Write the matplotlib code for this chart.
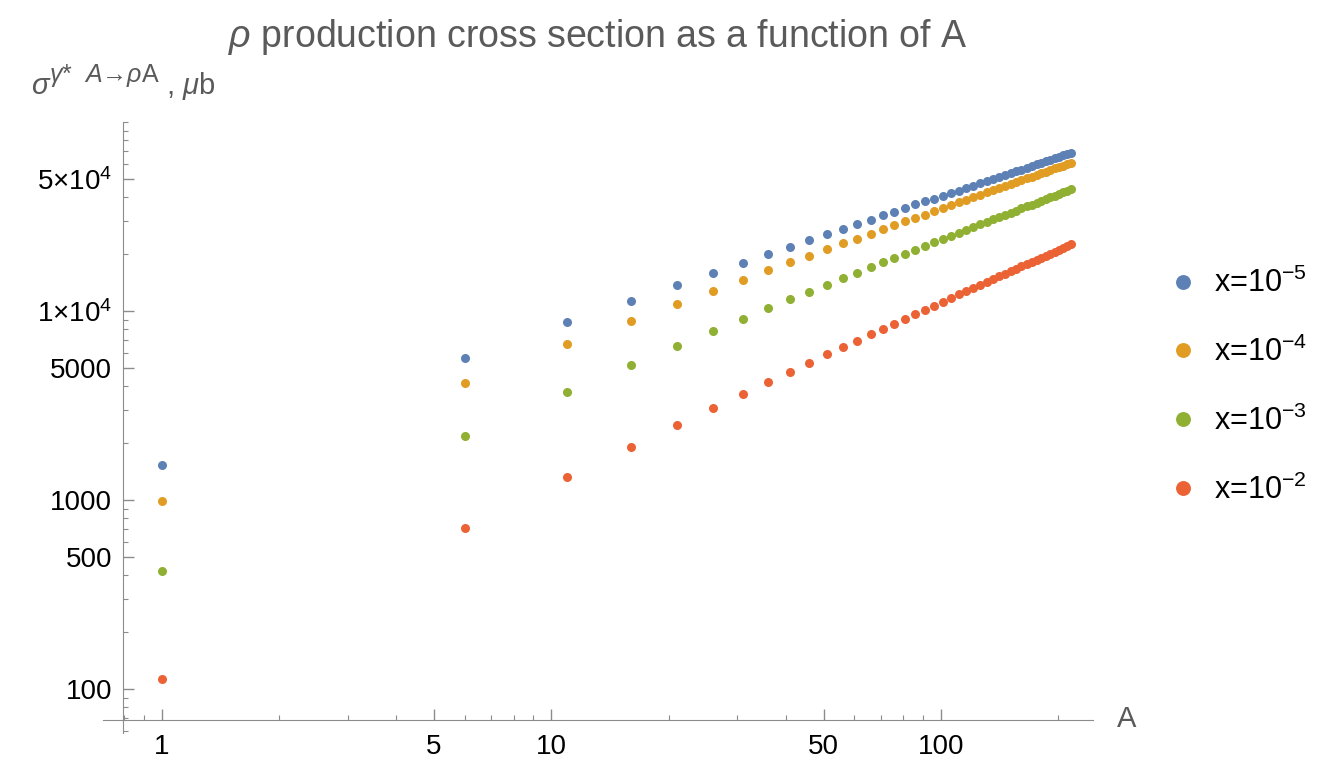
import matplotlib
matplotlib.use("Agg")
import matplotlib.pyplot as plt
from matplotlib.ticker import LogLocator, FixedLocator, FixedFormatter, NullFormatter

plt.rcParams['font.family'] = ['Liberation Sans', 'DejaVu Sans']
plt.rcParams['mathtext.fontset'] = 'custom'
plt.rcParams['mathtext.rm'] = 'Liberation Sans'
plt.rcParams['mathtext.it'] = 'Liberation Sans:italic'
plt.rcParams['mathtext.bf'] = 'Liberation Sans:bold'

# mass number A
A = [1, 6, 11, 16, 21, 26, 31, 36, 41, 46, 51, 56, 61, 66, 71, 76, 81, 86, 91, 96,
     101, 106, 111, 116, 121, 126, 131, 136, 141, 146, 151, 156, 161, 166, 171, 176,
     181, 186, 191, 196, 201, 206, 211, 216]

# cross section (mu b)
sigma_x1e5 = [1531, 5620, 8713, 11295, 13730, 15890, 18010, 20030, 21890, 23660,
              25560, 27160, 28860, 30420, 32090, 33530, 35070, 36690, 38050, 39290,
              40750, 42110, 43300, 44660, 45980, 47290, 48590, 49870, 51140, 52400,
              53630, 54860, 56070, 57290, 58490, 59670, 60850, 62010, 63150, 64300,
              65430, 66560, 67690, 68800]
sigma_x1e4 = [988, 4175, 6689, 8885, 10930, 12810, 14640, 16420, 18100, 19620,
              21210, 22820, 24130, 25650, 27050, 28410, 29830, 31050, 32330, 33810,
              34950, 36250, 37600, 38820, 40030, 41220, 42400, 43570, 44720, 45860,
              46990, 48110, 49220, 50320, 51420, 52500, 53580, 54650, 55710, 56770,
              57820, 58860, 59890, 60900]
sigma_x1e3 = [420, 2189, 3741, 5180, 6527, 7840, 9106, 10330, 11530, 12650,
              13780, 14890, 15950, 17030, 18100, 19070, 20100, 21100, 22080, 23100,
              24040, 25030, 25960, 26890, 27810, 28720, 29620, 30510, 31400, 32280,
              33150, 34020, 34870, 35730, 36580, 37430, 38280, 39110, 39940, 40770,
              41590, 42420, 43230, 44050]
sigma_x1e2 = [113, 713, 1319, 1914, 2502, 3079, 3651, 4210, 4755, 5326,
              5900, 6450, 6965, 7528, 8031, 8566, 9106, 9606, 10120, 10670,
              11160, 11670, 12260, 12760, 13270, 13770, 14270, 14760, 15260, 15750,
              16240, 16740, 17230, 17720, 18200, 18690, 19180, 19660, 20140, 20630,
              21100, 21590, 22070, 22540]

series = [sigma_x1e5, sigma_x1e4, sigma_x1e3, sigma_x1e2]
labels = [r'x=10$^{-5}$', r'x=10$^{-4}$', r'x=10$^{-3}$', r'x=10$^{-2}$']
colors = ['#5e81b5', '#e19c24', '#8fb032', '#eb6235']

yticks = [100, 500, 1000, 5000, 1e4, 5e4]
ytick_labels = ['100', '500', '1000', '5000', r'1$\times$10$^4$', r'5$\times$10$^4$']
xticks = [1, 5, 10, 50, 100]
xtick_labels = ['1', '5', '10', '50', '100']

fig = plt.figure(figsize=(13.22, 7.66), dpi=100)
ax = fig.add_axes([0.0779, 0.0431, 0.7485, 0.7976])

for ys, lab, c in zip(series, labels, colors):
    ax.plot(A, ys, 'o', color=c, markersize=6.5, markeredgewidth=0, label=lab)

ax.set_xscale('log')
ax.set_yscale('log')
ax.set_xlim(0.707, 245)
ax.set_ylim(58.5, 1.0e5)

# Mathematica-style crossing axes
gray = '#8c8c8c'
for s in ['top', 'right']:
    ax.spines[s].set_visible(False)
ax.spines['left'].set_position(('data', 0.797))
ax.spines['bottom'].set_position(('data', 68.6))
ax.spines['left'].set_color(gray)
ax.spines['bottom'].set_color(gray)

ax.xaxis.set_major_locator(FixedLocator(xticks))
ax.xaxis.set_major_formatter(FixedFormatter(xtick_labels))
ax.xaxis.set_minor_locator(LogLocator(base=10, subs=range(2, 10)))
ax.xaxis.set_minor_formatter(NullFormatter())
ax.yaxis.set_major_locator(FixedLocator(yticks))
ax.yaxis.set_major_formatter(FixedFormatter(ytick_labels))
ax.yaxis.set_minor_locator(LogLocator(base=10, subs=range(1, 10)))
ax.yaxis.set_minor_formatter(NullFormatter())

ax.tick_params(which='both', direction='in', color=gray, labelsize=20, labelcolor='black')
ax.tick_params(which='major', length=7.7, width=1)
ax.tick_params(which='minor', length=3.8, width=0.8)
ax.tick_params(axis='x', pad=10)
ax.tick_params(axis='y', pad=8)

title_gray = '#5a5a5a'
fig.text(0.4524, 0.952, r'$\rho$ production cross section as a function of A',
         ha='center', va='center', fontsize=27, color=title_gray)

# y label: sigma with a large superscript, then the unit
fig.text(0.0235, 0.8773, r'$\sigma$', ha='left', va='baseline', fontsize=21, color=title_gray)
fig.text(0.0374, 0.8930, r'$\gamma$*  $A$→$\rho$A',
         ha='left', va='baseline', fontsize=18, color=title_gray)
fig.text(0.1256, 0.8773, r', $\mu$b', ha='left', va='baseline', fontsize=21, color=title_gray)

fig.text(0.852, 0.062, 'A', ha='center', va='center', fontsize=21, color=title_gray)

fig.legend(loc='center left', bbox_to_anchor=(0.865, 0.4948), frameon=False,
           fontsize=22, markerscale=1.65, handletextpad=0.6, labelspacing=1.23,
           handlelength=0.8)

fig.savefig('out.png', dpi=100, facecolor='white')
